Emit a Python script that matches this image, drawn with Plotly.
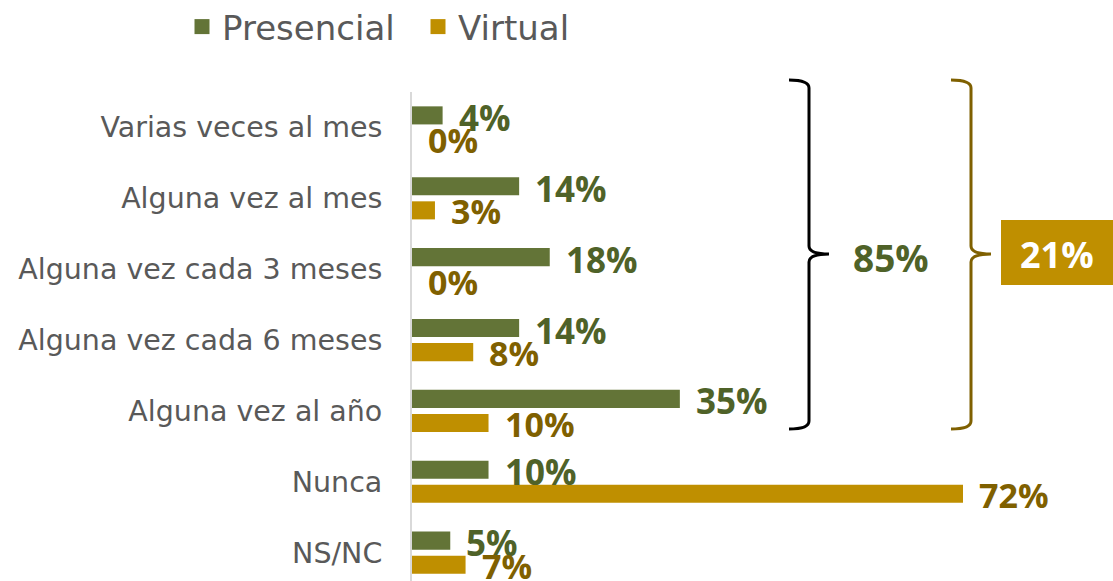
import plotly.graph_objects as go

categories = ["Varias veces al mes", "Alguna vez al mes", "Alguna vez cada 3 meses",
              "Alguna vez cada 6 meses", "Alguna vez al año", "Nunca", "NS/NC"]
presencial = [4, 14, 18, 14, 35, 10, 5]
virtual = [0, 3, 0, 8, 10, 72, 7]
series_names = ["Presencial", "Virtual"]
bracket_presencial = "85%"
bracket_virtual = "21%"

W, H = 1113, 581
ML, MR, MT, MB = 412, 0, 92, 0
PW, PH = W - ML - MR, H - MT - MB

GREEN = "#637437"
GOLD = "#BF8F00"
GREEN_TXT = "#4F6228"
GOLD_TXT = "#7F6000"
FONT = "Open Sans"
LABEL_FONT = "DejaVu Sans"


def px(x):
    return (x - ML) / PW


def py(y):
    return 1 - (y - MT) / PH


fig = go.Figure()
fig.add_trace(go.Bar(y=categories, x=presencial, name=series_names[0], orientation="h",
                     marker=dict(color=GREEN, line=dict(width=0)), showlegend=False))
fig.add_trace(go.Bar(y=categories, x=virtual, name=series_names[1], orientation="h",
                     marker=dict(color=GOLD, line=dict(width=0)), showlegend=False))
# legend entries (square swatches)
for name, col in zip(series_names, [GREEN, GOLD]):
    fig.add_trace(go.Scatter(x=[None], y=[None], mode="markers", name=name,
                             marker=dict(symbol="square", size=15, color=col), showlegend=True))

annotations = []
for cat, v in zip(categories, presencial):
    annotations.append(dict(x=v, y=cat, xref="x", yref="y", text=f"{v}%", showarrow=False,
                            xanchor="left", yanchor="middle", xshift=14, yshift=10,
                            font=dict(family=FONT, size=35, color=GREEN_TXT, weight="bold")))
for cat, v in zip(categories, virtual):
    annotations.append(dict(x=v, y=cat, xref="x", yref="y", text=f"{v}%", showarrow=False,
                            xanchor="left", yanchor="middle", xshift=14, yshift=-13,
                            font=dict(family=FONT, size=34, color=GOLD_TXT, weight="bold")))

annotations.append(dict(x=px(891), y=py(257), xref="paper", yref="paper", text=bracket_presencial,
                        showarrow=False, xanchor="center", yanchor="middle",
                        font=dict(family=FONT, size=37, color=GREEN_TXT, weight="bold")))
annotations.append(dict(x=px(1057), y=py(254), xref="paper", yref="paper", text=bracket_virtual,
                        showarrow=False, xanchor="center", yanchor="middle",
                        font=dict(family=FONT, size=36, color="white", weight="bold")))


def brace(x0, xv, xt, y0, ym, y1):
    return (f"M {px(x0)},{py(y0)} Q {px(xv)},{py(y0)} {px(xv)},{py(y0+8)} "
            f"L {px(xv)},{py(ym-8)} Q {px(xv)},{py(ym)} {px(xt)},{py(ym)} "
            f"Q {px(xv)},{py(ym)} {px(xv)},{py(ym+8)} "
            f"L {px(xv)},{py(y1-8)} Q {px(xv)},{py(y1)} {px(x0)},{py(y1)}")


shapes = [
    dict(type="path", xref="paper", yref="paper", path=brace(789, 809, 829, 80, 254, 429),
         line=dict(color="black", width=3)),
    dict(type="path", xref="paper", yref="paper", path=brace(951, 971, 991, 80, 254, 429),
         line=dict(color=GOLD_TXT, width=3)),
    dict(type="rect", xref="paper", yref="paper", x0=px(1001), x1=px(1114), y0=py(285), y1=py(220),
         fillcolor=GOLD, line=dict(width=0), layer="below"),
]

fig.update_layout(
    width=W, height=H,
    margin=dict(l=ML, r=MR, t=MT, b=MB, autoexpand=False),
    paper_bgcolor="white", plot_bgcolor="white",
    barmode="group", bargap=0.32, bargroupgap=0.25,
    font=dict(family=FONT, color="#595959"),
    showlegend=True,
    legend=dict(orientation="h", xref="container", yref="container", x=182 / W, y=1 - 27 / H,
                xanchor="left", yanchor="middle", font=dict(size=34, color="#595959", family=LABEL_FONT),
                itemsizing="trace", traceorder="normal", itemclick=False, entrywidth=191),
    xaxis=dict(range=[0, 91.6], visible=False, showgrid=False, zeroline=False, fixedrange=True),
    yaxis=dict(categoryorder="array", categoryarray=categories, range=[6.4, -0.5],
               showline=True, linecolor="#D9D9D9", linewidth=2, ticks="", showgrid=False,
               tickfont=dict(size=28.5, color="#595959", family=LABEL_FONT), ticklabelstandoff=22,
               fixedrange=True),
    annotations=annotations, shapes=shapes,
)

fig.write_html("out.html", config={"displayModeBar": False},
               post_script="document.body.style.margin='0';")
